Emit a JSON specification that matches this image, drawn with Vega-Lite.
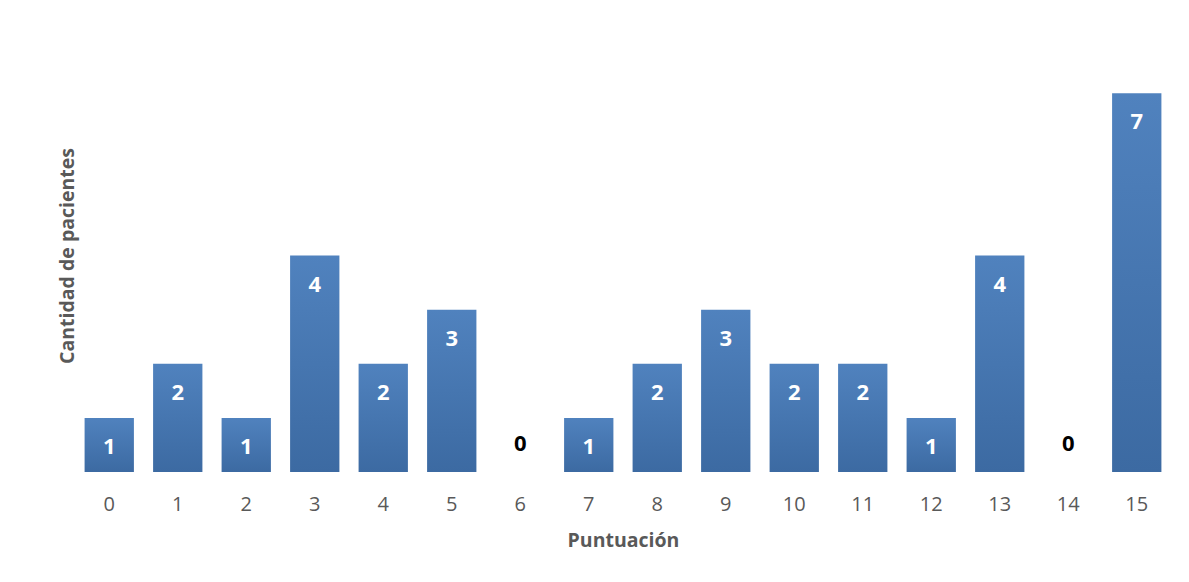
{
  "$schema": "https://vega.github.io/schema/vega-lite/v6.json",
  "autosize": "none",
  "width": 1096,
  "height": 433,
  "padding": {"left": 75, "top": 39, "right": 18, "bottom": 110},
  "background": "white",
  "config": {"view": {"stroke": null}, "font": "Open Sans"},
  "data": {"values": [
    {"puntuacion": "0", "cantidad": 1},
    {"puntuacion": "1", "cantidad": 2},
    {"puntuacion": "2", "cantidad": 1},
    {"puntuacion": "3", "cantidad": 4},
    {"puntuacion": "4", "cantidad": 2},
    {"puntuacion": "5", "cantidad": 3},
    {"puntuacion": "6", "cantidad": 0},
    {"puntuacion": "7", "cantidad": 1},
    {"puntuacion": "8", "cantidad": 2},
    {"puntuacion": "9", "cantidad": 3},
    {"puntuacion": "10", "cantidad": 2},
    {"puntuacion": "11", "cantidad": 2},
    {"puntuacion": "12", "cantidad": 1},
    {"puntuacion": "13", "cantidad": 4},
    {"puntuacion": "14", "cantidad": 0},
    {"puntuacion": "15", "cantidad": 7}
  ]},
  "encoding": {
    "x": {
      "field": "puntuacion", "type": "ordinal", "sort": null,
      "scale": {"paddingInner": 0.28, "paddingOuter": 0.14},
      "axis": {
        "title": "Puntuación", "titleFont": "Open Sans", "titleFontSize": 19.5, "titleFontWeight": "bold",
        "titleColor": "#595959", "titlePadding": 17,
        "labelAngle": 0, "labelFont": "Open Sans", "labelFontSize": 20, "labelColor": "#595959",
        "labelPadding": 22, "ticks": false, "domain": false
      }
    },
    "y": {
      "field": "cantidad", "type": "quantitative",
      "scale": {"domain": [0, 8], "nice": false},
      "axis": {
        "title": "Cantidad de pacientes", "titleFont": "Open Sans", "titleFontSize": 19.5, "titleFontWeight": "bold",
        "titleColor": "#595959", "titlePadding": -2,
        "labels": false, "ticks": false, "domain": false, "grid": false
      }
    }
  },
  "layer": [
    {
      "mark": {
        "type": "bar",
        "color": {
          "gradient": "linear", "x1": 0, "y1": 0, "x2": 0, "y2": 1,
          "stops": [{"offset": 0, "color": "#5082BE"}, {"offset": 1, "color": "#3C6AA2"}]
        }
      }
    },
    {
      "transform": [{"filter": "datum.cantidad > 0"}],
      "mark": {"type": "text", "baseline": "middle", "dy": 29, "color": "white", "fontWeight": "bold", "fontSize": 22, "font": "Open Sans"},
      "encoding": {"text": {"field": "cantidad", "type": "quantitative"}}
    },
    {
      "transform": [{"filter": "datum.cantidad == 0"}],
      "mark": {"type": "text", "baseline": "middle", "dy": -28, "color": "black", "fontWeight": "bold", "fontSize": 22, "font": "Open Sans"},
      "encoding": {"text": {"field": "cantidad", "type": "quantitative"}}
    }
  ]
}
